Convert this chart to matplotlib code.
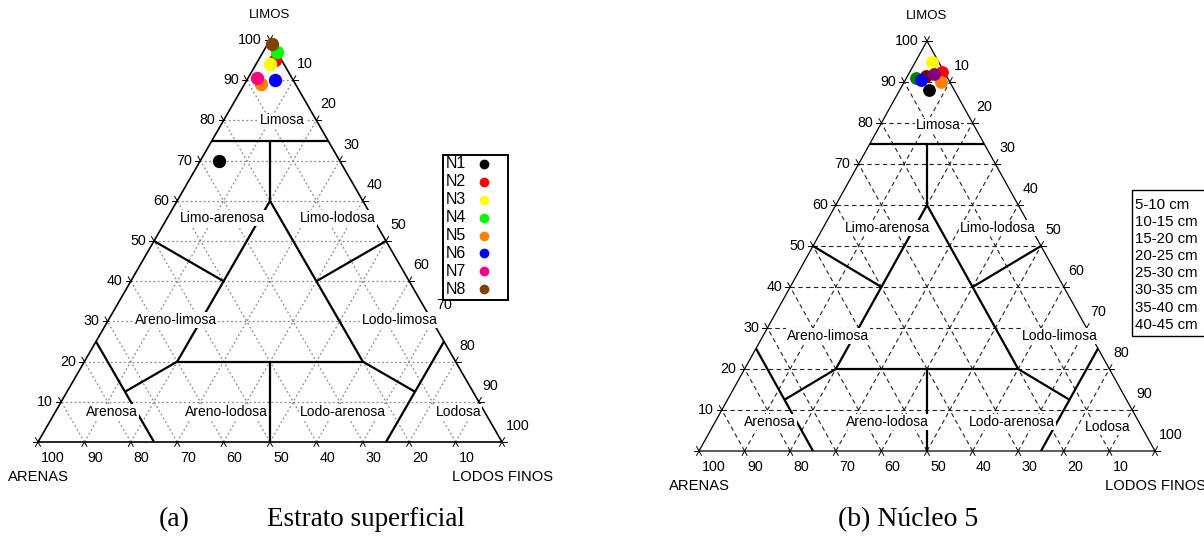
"""
Diagramas ternarios de texturas: (a) estrato superficial, (b) núcleo 5
"""

import matplotlib.pyplot as plt
from matplotlib.lines import Line2D
from matplotlib.patches import Rectangle
from matplotlib.transforms import offset_copy
import numpy as np

plt.rcParams['font.family'] = ['Liberation Sans', 'DejaVu Sans']

W, H, DPI = 1204, 542, 100

# ---- datos (arenas, limos, lodos finos) en % ----
nombres_a = ['N1', 'N2', 'N3', 'N4', 'N5', 'N6', 'N7', 'N8']
colores_a = ['black', 'red', 'yellow', '#00ff00', '#ff8000', 'blue', '#ff0080', '#804000']
arenas_a = [26, 1.5, 3, 0, 7.5, 4, 7.5, 0]
limos_a = [70, 95, 94, 97, 89, 90, 90.5, 99]
lodos_a = [4, 3.5, 3, 3, 3.5, 6, 2, 1]

nombres_b = ['5-10 cm', '10-15 cm', '15-20 cm', '20-25 cm',
             '25-30 cm', '30-35 cm', '35-40 cm', '40-45 cm']
colores_b = ['black', 'red', 'yellow', '#008000', '#ff8000', 'blue', '#800080', '#800000']
arenas_b = [5.5, 0.5, 1.5, 7, 2, 6, 2.5, 4.5]
limos_b = [88, 92.5, 95, 91, 90, 90.5, 92, 91.5]
lodos_b = [6.5, 7, 3.5, 2, 8, 3.5, 5.5, 4]
orden_b = [0, 7, 3, 1, 4, 2, 5, 6]

# clases texturales y límites (arenas, limos, lodos)
clases = ['Limosa', 'Limo-arenosa', 'Limo-lodosa', 'Areno-limosa', 'Lodo-limosa',
          'Arenosa', 'Areno-lodosa', 'Lodo-arenosa', 'Lodosa']
limites = [
    [(25, 75, 0), (0, 75, 25)],
    [(12.5, 75, 12.5), (20, 60, 20)],
    [(20, 60, 20), (60, 20, 20)],
    [(20, 60, 20), (20, 20, 60)],
    [(50, 50, 0), (40, 40, 20)],
    [(0, 50, 50), (20, 40, 40)],
    [(60, 20, 20), (20, 20, 60)],
    [(40, 20, 40), (50, 0, 50)],
    [(75, 12.5, 12.5), (60, 20, 20)],
    [(75, 25, 0), (75, 0, 25)],
    [(20, 20, 60), (12.5, 12.5, 75)],
    [(0, 25, 75), (25, 0, 75)],
]

fig = plt.figure(figsize=(W / DPI, H / DPI), dpi=DPI)


def xy(a, l, f):
    s = a + l + f
    return f / s + 0.5 * l / s, l / s


def fx(px):
    return px / W


def fy(py):
    return 1 - py / H


def triangulo(x0, ybase, ancho, alto, etiquetas, pos_etq, grid_kw, lw_borde):
    ax = fig.add_axes([x0 / W, (H - ybase) / H, ancho / W, alto / H])
    ax.set_xlim(0, 1)
    ax.set_ylim(0, 1)
    ax.axis('off')

    def off(dx, dy):
        return offset_copy(ax.transData, fig=fig, x=dx, y=-dy, units='dots')

    # rejilla
    for k in range(1, 10):
        t = k / 10
        ax.plot([t / 2, 1 - t / 2], [t, t], zorder=1, **grid_kw)
        ax.plot([t, t + (1 - t) / 2], [0, 1 - t], zorder=1, **grid_kw)
        ax.plot([1 - t, (1 - t) / 2], [0, 1 - t], zorder=1, **grid_kw)

    # marcas de escala
    def marca(p, d, n=5):
        px = np.array([d[0] * ancho, d[1] * alto])
        dd = np.array(d) * n / np.hypot(*px)
        ax.plot([p[0], p[0] + dd[0]], [p[1], p[1] + dd[1]], color='black', lw=0.7,
                zorder=2, clip_on=False)

    for k in range(11):
        t = k / 10
        marca((t, 0), (-0.5, -1))
        marca((t, 0), (0.5, -1))
        marca((t / 2, t), (-1, 0))
        marca((t / 2, t), (-0.5, 1))
        marca((1 - t / 2, t), (1, 0))
        marca((1 - t / 2, t), (0.5, 1))

    # borde
    ax.plot([0, 1, 0.5, 0], [0, 0, 1, 0], color='black', lw=lw_borde, zorder=3,
            clip_on=False, solid_joinstyle='miter')

    # límites de clases
    for p, q in limites:
        x1, y1 = xy(*p)
        x2, y2 = xy(*q)
        ax.plot([x1, x2], [y1, y2], color='black', lw=1.6, zorder=3, solid_capstyle='butt')

    # nombres de clases
    for nom, (px, py) in zip(clases, pos_etq):
        ax.text(px, py, nom, ha='center', va='center', fontsize=10, zorder=4,
                bbox=dict(facecolor='white', edgecolor='none', pad=0.6))

    # números de los ejes
    for k in range(11):
        t = k / 10
        if k < 10:
            ax.text(t, 0, str(100 - 10 * k), transform=off(3, 16), ha='left', va='center',
                    fontsize=10.3, zorder=5)
        if k > 0:
            ax.text(t / 2, t, str(10 * k), transform=off(-8, 0), ha='right', va='center',
                    fontsize=10.3, zorder=5)
            ax.text(1 - (1 - t) / 2, 1 - t, str(10 * k), transform=off(4, -16),
                    ha='left', va='center', fontsize=10.3, zorder=5)

    ax.text(0.5, 1, etiquetas[0], transform=off(0, -25), ha='center', va='center', fontsize=9.5)
    ax.text(0, 0, etiquetas[1], transform=off(-30, 35), ha='left', va='center', fontsize=10.6)
    ax.text(1, 0, etiquetas[2], transform=off(-50, 35), ha='left', va='center', fontsize=10.6)
    return ax


def leyenda(x0, y0, ancho, alto, nombres, colores, ytxt, paso, xmk, fs, lw):
    fig.add_artist(Rectangle((fx(x0), fy(y0 + alto)), ancho / W, alto / H,
                             transform=fig.transFigure, facecolor='white',
                             edgecolor='black', lw=lw, zorder=7))
    for i, (nom, c) in enumerate(zip(nombres, colores)):
        yy = ytxt + i * paso
        fig.text(fx(x0 + 3), fy(yy), nom, ha='left', va='center', fontsize=fs, zorder=8)
        fig.add_artist(Line2D([fx(xmk)], [fy(yy)], marker='o', ls='none', color=c,
                              markersize=6, transform=fig.transFigure, zorder=8))


# ---- (a) estrato superficial ----
pos_a = [(0.526, 0.800), (0.397, 0.557), (0.647, 0.557), (0.297, 0.303), (0.780, 0.303),
         (0.159, 0.075), (0.405, 0.075), (0.657, 0.075), (0.907, 0.075)]
ax_a = triangulo(38, 442, 464, 402, ['LIMOS', 'ARENAS', 'LODOS FINOS'], pos_a,
                 dict(color='#8a8a8a', lw=0.9, linestyle=(0, (1.5, 2))), 1.2)
for i in range(len(nombres_a)):
    x, y = xy(arenas_a[i], limos_a[i], lodos_a[i])
    ax_a.plot(x, y, 'o', color=colores_a[i], markersize=8.6, zorder=6, clip_on=False)

leyenda(443, 155, 65, 145, nombres_a, colores_a, 164, 17.9, 484, 11.5, 1.4)

# ---- (b) núcleo 5 ----
pos_b = [(0.524, 0.795), (0.414, 0.544), (0.656, 0.544), (0.283, 0.280), (0.792, 0.280),
         (0.156, 0.071), (0.414, 0.071), (0.686, 0.071), (0.897, 0.059)]
ax_b = triangulo(699, 451, 456, 410, ['LIMOS', 'ARENAS', 'LODOS FINOS'], pos_b,
                 dict(color='#222222', lw=0.8, linestyle=(0, (4, 3))), 0.9)
for i in orden_b:
    x, y = xy(arenas_b[i], limos_b[i], lodos_b[i])
    ax_b.plot(x, y, 'o', color=colores_b[i], markersize=8.2, zorder=6, clip_on=False)

leyenda(1132, 190, 120, 146, nombres_b, colores_b, 205, 17.1, 1222, 10.8, 1.0)

# pies de figura
serif = ['Liberation Serif', 'DejaVu Serif']
fig.text(fx(174), fy(520), '(a)', ha='center', va='center', fontsize=20, family=serif)
fig.text(fx(267), fy(520), 'Estrato superficial', ha='left', va='center', fontsize=19.5,
         family=serif)
fig.text(fx(838), fy(520), '(b) Núcleo 5', ha='left', va='center', fontsize=20,
         family=serif)

fig.savefig('out.png', dpi=DPI, facecolor='white')
